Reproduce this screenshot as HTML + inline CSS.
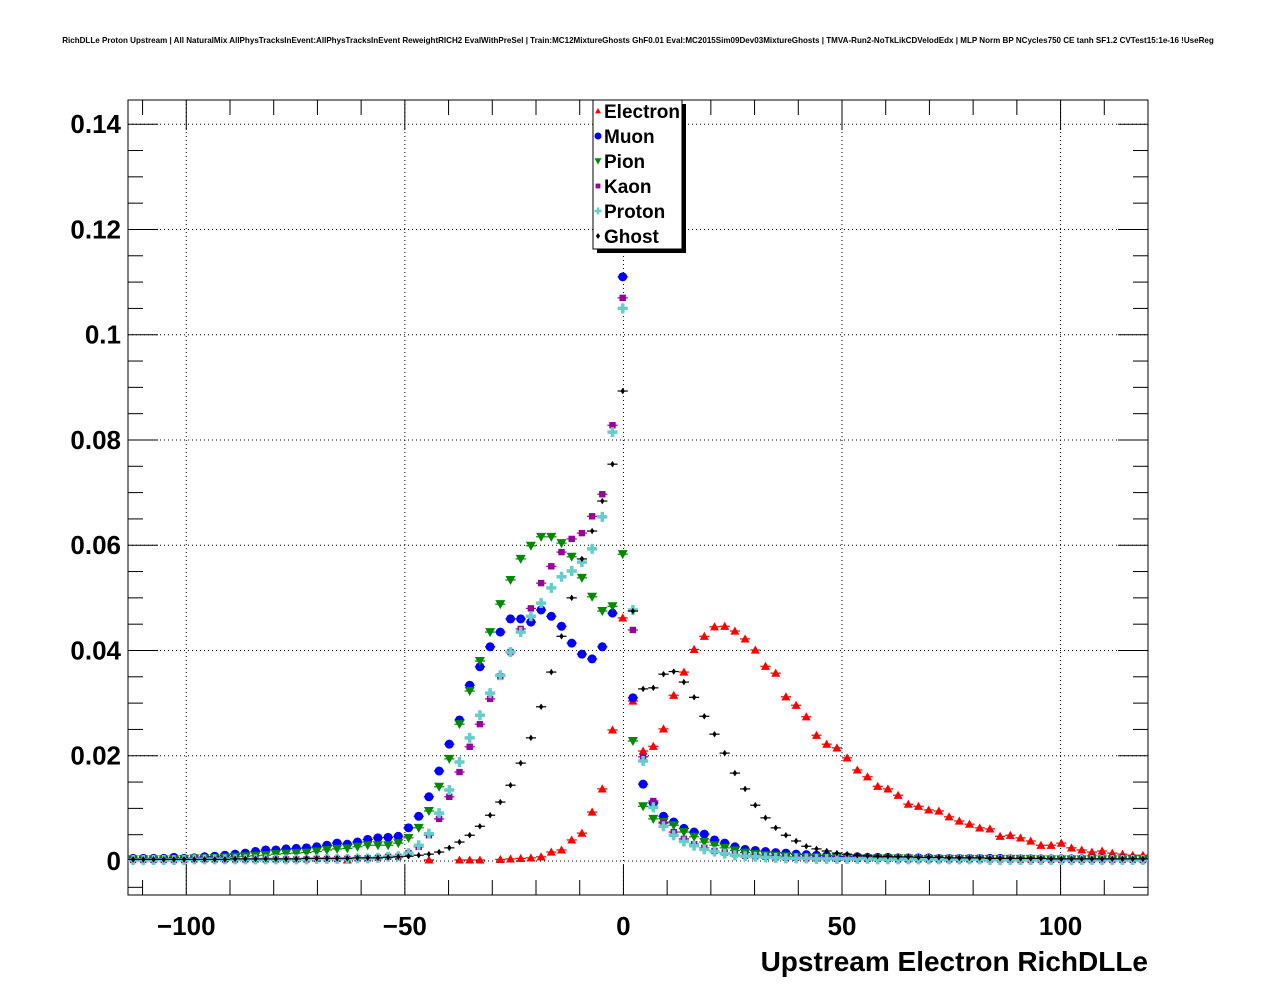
<!DOCTYPE html>
<html><head><meta charset="utf-8"><style>
body{margin:0;background:#fff;}
svg text{font-family:"Liberation Sans",Arial,sans-serif;font-weight:bold;}
</style></head><body>
<svg id="chart" width="1276" height="996" viewBox="0 0 1276 996" xmlns="http://www.w3.org/2000/svg">
<defs><clipPath id="pc"><rect x="128" y="100" width="1020" height="795"/></clipPath></defs>
<rect x="0" y="0" width="1276" height="996" fill="#fff"/>
<text x="638" y="43" font-size="8.05" text-anchor="middle">RichDLLe Proton Upstream | All NaturalMix AllPhysTracksInEvent:AllPhysTracksInEvent ReweightRICH2 EvalWithPreSel | Train:MC12MixtureGhosts GhF0.01 Eval:MC2015Sim09Dev03MixtureGhosts | TMVA-Run2-NoTkLikCDVelodEdx | MLP Norm BP NCycles750 CE tanh SF1.2 CVTest15:1e-16 !UseReg</text>
<g id="grid"></g>
<g id="axes"></g>
<g id="marks" clip-path="url(#pc)"></g>
<text x="1148" y="971" font-size="28" text-anchor="end">Upstream Electron RichDLLe</text>
<g id="legend"></g>
</svg>
<script>
const xTicks=[-100,-50,0,50,100];
const yTicks=[0,0.02,0.04,0.06,0.08,0.1,0.12,0.14];
const yTickLabels=["0","0.02","0.04","0.06","0.08","0.1","0.12","0.14"];
const xTickLabels=["\u2212100","\u221250","0","50","100"];
const seriesNames=["Electron","Muon","Pion","Kaon","Proton","Ghost"];
const electron=[0,0,0,0,0,0,0,0,0,0,0,0,0,0,0,0,0,0,0,0,0,0.0002,0,0,0,0,0,0,0,0.0002,0,0,0.0002,0.0002,0.0002,0,0.0003,0.0004,0.0005,0.0006,0.0008,0.0017,0.0021,0.004,0.0053,0.0093,0.0137,0.0249,0.0462,
0.0304,0.0209,0.0218,0.0251,0.0315,0.0359,0.0402,0.0427,0.0445,0.0446,0.0437,0.0422,0.0401,0.037,0.0357,0.0312,0.0296,0.0274,0.0239,0.0222,0.0215,0.0196,0.0173,0.016,0.0142,0.0137,0.0125,
0.0108,0.0104,0.0097,0.0095,0.0084,0.0076,0.007,0.0063,0.0061,0.0047,0.0049,0.0044,0.0038,0.003,0.003,0.0034,0.0025,0.0021,0.0017,0.0019,0.0015,0.0013,0.0011,0.0011];
const muon=[0.0005,0.0005,0.0005,0.0005,0.0007,0.0005,0.0006,0.0008,0.0009,0.0011,0.0013,0.0015,0.0018,0.0021,0.0021,0.0023,0.0024,0.0025,0.0027,0.003,0.0034,0.0032,0.0036,0.0041,0.0044,0.0045,0.0047,
0.0063,0.0085,0.0122,0.0171,0.0222,0.0268,0.0334,0.0369,0.0407,0.0435,0.046,0.046,0.0454,0.0477,0.0465,0.0446,0.0414,0.0393,0.0384,0.0407,0.0471,0.111,
0.031,0.0146,0.011,0.0085,0.0074,0.0062,0.0055,0.0051,0.004,0.0034,0.0027,0.0022,0.002,0.0018,0.0016,0.0015,0.0013,0.0012,0.0011,0.001,0.0009,
0.0008,0.0008,0.0007,0.0007,0.0007,0.0006,0.0006,0.0006,0.0006,0.0005,0.0005,0.0005,0.0005,0.0005,0.0005,0.0005,0.0004,0.0004,0.0004,0.0004,0.0004,0.0004,0.0004,0.0004,0.0004,0.0004,0.0004,0.0004,0.0004,0.0003];
const pion=[0.0003,0.0003,0.0003,0.0003,0.0003,0.0004,0.0005,0.0005,0.0006,0.0007,0.0008,0.0009,0.001,0.0011,0.0013,0.0014,0.0015,0.0016,0.0018,0.0021,0.0023,0.0024,0.0027,0.003,0.003,0.003,0.0034,
0.0044,0.0063,0.0095,0.0141,0.0194,0.026,0.0323,0.038,0.0435,0.0488,0.0534,0.0574,0.0599,0.0616,0.0616,0.0604,0.0578,0.0538,0.0502,0.0475,0.0484,0.0583,
0.0228,0.0104,0.008,0.0074,0.0068,0.0055,0.0046,0.0036,0.003,0.0025,0.002,0.0016,0.0013,0.0011,0.001,0.0009,0.0008,0.0007,0.0007,0.0006,0.0006,
0.0005,0.0005,0.0005,0.0005,0.0005,0.0005,0.0005,0.0004,0.0004,0.0004,0.0004,0.0004,0.0004,0.0004,0.0004,0.0004,0.0004,0.0004,0.0004,0.0003,0.0003,0.0003,0.0003,0.0003,0.0003,0.0003,0.0003,0.0003,0.0003,0.0003];
const kaon=[0.0002,0.0002,0.0002,0.0002,0.0002,0.0002,0.0003,0.0003,0.0003,0.0003,0.0003,0.0003,0.0003,0.0003,0.0003,0.0003,0.0003,0.0003,0.0004,0.0004,0.0004,0.0004,0.0005,0.0005,0.0006,0.0008,0.0008,
0.0015,0.0027,0.0049,0.008,0.0122,0.0169,0.0217,0.026,0.0308,0.0351,0.0397,0.0441,0.048,0.0528,0.056,0.0587,0.0612,0.0623,0.0655,0.0697,0.0828,0.107,
0.0439,0.0198,0.0114,0.0072,0.0055,0.0042,0.0032,0.0025,0.0019,0.0016,0.0013,0.001,0.0009,0.0008,0.0007,0.0006,0.0006,0.0005,0.0005,0.0005,0.0004,
0.0004,0.0004,0.0004,0.0004,0.0004,0.0003,0.0003,0.0003,0.0003,0.0003,0.0003,0.0003,0.0003,0.0003,0.0003,0.0003,0.0003,0.0002,0.0002,0.0002,0.0002,0.0002,0.0002,0.0002,0.0002,0.0002,0.0002,0.0002,0.0002,0.0002];
const proton=[0.0002,0.0002,0.0002,0.0002,0.0002,0.0002,0.0003,0.0003,0.0003,0.0003,0.0003,0.0003,0.0003,0.0003,0.0003,0.0003,0.0003,0.0003,0.0004,0.0004,0.0004,0.0004,0.0005,0.0005,0.0006,0.0008,0.0009,
0.0015,0.003,0.0052,0.0091,0.0135,0.0188,0.0234,0.0277,0.0319,0.0353,0.0397,0.0435,0.0465,0.049,0.0519,0.054,0.0551,0.0568,0.0593,0.0654,0.0815,0.105,
0.0477,0.019,0.0102,0.0066,0.0049,0.0037,0.0029,0.0022,0.0018,0.0014,0.0011,0.0009,0.0008,0.0007,0.0006,0.0005,0.0005,0.0005,0.0004,0.0004,0.0004,
0.0004,0.0004,0.0004,0.0003,0.0003,0.0003,0.0003,0.0003,0.0003,0.0003,0.0003,0.0003,0.0003,0.0003,0.0002,0.0002,0.0002,0.0002,0.0002,0.0002,0.0002,0.0002,0.0002,0.0002,0.0002,0.0002,0.0002,0.0002,0.0002,0.0002];
const ghost=[0.0003,0.0003,0.0003,0.0003,0.0003,0.0003,0.0003,0.0003,0.0003,0.0003,0.0004,0.0004,0.0004,0.0004,0.0004,0.0004,0.0004,0.0005,0.0005,0.0005,0.0005,0.0005,0.0006,0.0006,0.0006,0.0007,0.0008,
0.0009,0.0011,0.0013,0.0017,0.0025,0.0036,0.0049,0.0066,0.0087,0.0112,0.0144,0.0186,0.0234,0.0293,0.0359,0.0427,0.05,0.0574,0.0627,0.0684,0.0754,0.0893,
0.0475,0.0327,0.0329,0.0355,0.036,0.034,0.0311,0.0275,0.0241,0.0205,0.0167,0.0137,0.0106,0.0082,0.0063,0.0049,0.0038,0.0028,0.0023,0.0019,0.0015,0.0013,0.0011,
0.001,0.0009,0.0009,0.0008,0.0008,0.0007,0.0007,0.0007,0.0006,0.0006,0.0006,0.0006,0.0005,0.0005,0.0005,0.0005,0.0005,0.0005,0.0004,0.0004,0.0004,0.0004,0.0004,0.0004,0.0004,0.0004,0.0004,0.0004];
const xMin=-113.33, xMax=120, nBins=100;
const yMin=-0.00646, yMax=0.1446;

const PL=128,PR=1148,PT=100,PB=895;
const NS='http://www.w3.org/2000/svg';
function sx(v){return PL+(v-xMin)/(xMax-xMin)*(PR-PL);}
function sy(v){return PB-(v-yMin)/(yMax-yMin)*(PB-PT);}
function mk(tag,attrs,parent){const e=document.createElementNS(NS,tag);for(const k in attrs)e.setAttribute(k,attrs[k]);parent.appendChild(e);return e;}
const grid=document.getElementById('grid'),axes=document.getElementById('axes'),marks=document.getElementById('marks'),legend=document.getElementById('legend');
xTicks.forEach(t=>{const l=mk('line',{x1:sx(t),x2:sx(t),y1:PT,y2:PB,stroke:'#000','stroke-width':1,'stroke-dasharray':'1,3'},grid);

});
yTicks.forEach(t=>{const l=mk('line',{x1:PL,x2:PR,y1:sy(t),y2:sy(t),stroke:'#000','stroke-width':1,'stroke-dasharray':'1,3'},grid);

});
const fr=mk('rect',{x:PL,y:PT,width:PR-PL,height:PB-PT,fill:'none',stroke:'#000','stroke-width':1},axes);


for(let v=-110;v<=120;v+=10){const maj=v%50===0;const L=maj?30:15;
mk('line',{x1:sx(v),x2:sx(v),y1:PB,y2:PB-L,stroke:'#000'},axes);
mk('line',{x1:sx(v),x2:sx(v),y1:PT,y2:PT+L,stroke:'#000'},axes);}
xTicks.forEach((t,i)=>{const tx=mk('text',{x:sx(t),y:935,'font-size':26,'text-anchor':'middle'},axes);tx.textContent=xTickLabels[i];

});
for(let k=-1;k<=28;k++){const v=k*0.005;if(v<yMin||v>yMax)continue;const maj=k%4===0;const L=maj?30:15;
mk('line',{x1:PL,x2:PL+L,y1:sy(v),y2:sy(v),stroke:'#000'},axes);
mk('line',{x1:PR,x2:PR-L,y1:sy(v),y2:sy(v),stroke:'#000'},axes);}
yTicks.forEach((t,i)=>{const tx=mk('text',{x:121,y:sy(t)+9,'font-size':26,'text-anchor':'end'},axes);tx.textContent=yTickLabels[i];

});
const colors=['#ff0000','#0000ff','#008800','#990099','#66cccc','#000000'];
function marker(type,x,y,c,s,p){
 if(type===0) return mk('polygon',{points:`${x},${y-s} ${x-s},${y+s*0.8} ${x+s},${y+s*0.8}`,fill:c},p);
 if(type===1) return mk('circle',{cx:x,cy:y,r:s,fill:c},p);
 if(type===2) return mk('polygon',{points:`${x-s},${y-s*0.8} ${x+s},${y-s*0.8} ${x},${y+s}`,fill:c},p);
 if(type===3) return mk('rect',{x:x-s*0.8,y:y-s*0.8,width:s*1.6,height:s*1.6,fill:c},p);
 if(type===4) return mk('path',{d:`M${x-s},${y-s*0.35}h${s*0.65}v${-s*0.65}h${s*0.7}v${s*0.65}h${s*0.65}v${s*0.7}h${-s*0.65}v${s*0.65}h${-s*0.7}v${-s*0.65}h${-s*0.65}z`,fill:c},p);
 return mk('polygon',{points:`${x},${y-s} ${x+s*0.7},${y} ${x},${y+s} ${x-s*0.7},${y}`,fill:c},p);
}
const sizes=[4.5,4.5,5,4,5,3.2];
const series=[electron,muon,pion,kaon,proton,ghost];
const bw=(xMax-xMin)/nBins;
series.forEach((arr,si)=>{
 const g=mk('g',{},marks);
 
 
 arr.forEach((v,i)=>{ if(v<=0) return;
  const c=xMin+bw*(i+0.5);const X=sx(c),Y=sy(v);
  mk('line',{x1:sx(c-bw/2),x2:sx(c+bw/2),y1:Y,y2:Y,stroke:colors[si],'stroke-width':1.2},g);
  mk('line',{x1:X,x2:X,y1:Y-2.5,y2:Y+2.5,stroke:colors[si],'stroke-width':1.2},g);
  const m=marker(si,X,Y,colors[si],sizes[si],g);
  
  
 });
});
mk('rect',{x:597,y:104,width:89,height:149,fill:'#000'},legend);
const lb=mk('rect',{x:593,y:100,width:89,height:149,fill:'#fff',stroke:'#000'},legend);


seriesNames.forEach((n,i)=>{const y=111+25*i;
 const g=mk('g',{},legend);
 
 
 marker(i,598,y,colors[i],[3,3.5,3.5,3,3.5,3][i],g);
 const t=mk('text',{x:604,y:y+7,'font-size':19},g);t.textContent=n;});
</script>
</body></html>
